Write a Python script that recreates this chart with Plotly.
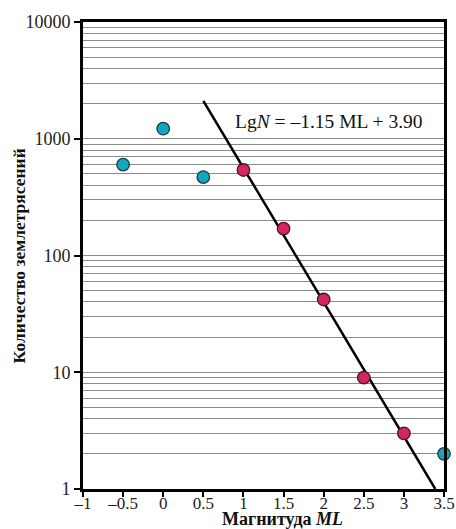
import numpy as np
import plotly.graph_objects as go

# Data
mag_excluded = [-0.5, 0.0, 0.5, 3.5]
n_excluded = [600, 1220, 470, 2]
mag_fit = [1.0, 1.5, 2.0, 2.5, 3.0]
n_fit = [540, 170, 42, 9, 3]
fit_slope = -1.15
fit_intercept = 3.90
fit_x_start = 0.5
x_ticks = [-1, -0.5, 0, 0.5, 1, 1.5, 2, 2.5, 3, 3.5]
x_tick_text = ["\u20131", "\u20130.5", "0", "0.5", "1", "1.5", "2", "2.5", "3", "3.5"]
y_ticks = [1, 10, 100, 1000, 10000]
y_tick_text = ["1", "10", "100", "1000", "10000"]

SERIF = "Liberation Serif, Times New Roman, serif"

x_end = fit_intercept / -fit_slope  # where N = 1
line_x = np.array([fit_x_start, x_end])
line_y = 10 ** (fit_slope * line_x + fit_intercept)

minor_vals = [m * 10 ** d for d in range(4) for m in range(2, 10)]

fig = go.Figure()
fig.add_trace(go.Scatter(x=line_x, y=line_y, mode="lines",
                         line=dict(color="black", width=2.5), showlegend=False,
                         hoverinfo="skip"))
fig.add_trace(go.Scatter(x=mag_excluded, y=n_excluded, mode="markers",
                         marker=dict(size=12.5, color="#13a6bf",
                                     line=dict(color="#1c3a44", width=1.3)),
                         cliponaxis=False, showlegend=False))
fig.add_trace(go.Scatter(x=mag_fit, y=n_fit, mode="markers",
                         marker=dict(size=12.5, color="#d6265f",
                                     line=dict(color="#4a1428", width=1.3)),
                         cliponaxis=False, showlegend=False))

fig.add_annotation(x=2.07, y=np.log10(1415), xref="x", yref="y",
                   text="Lg<i>N</i> = \u20131.15 ML + 3.90", showarrow=False,
                   font=dict(family=SERIF, size=19.5, color="#111"))

# axis titles as annotations (placed like the reference)
fig.add_annotation(x=0.554, y=-0.0645, xref="paper", yref="paper",
                   text="<b>Магнитуда <i>ML</i></b>", showarrow=False,
                   xanchor="center", yanchor="middle",
                   font=dict(family=SERIF, size=18, color="#111"))
fig.add_annotation(x=-0.176, y=0.499, xref="paper", yref="paper",
                   text="<b>Количество землетрясений</b>", showarrow=False,
                   textangle=-90, xanchor="center", yanchor="middle",
                   font=dict(family=SERIF, size=17.5, color="#111"))

fig.update_xaxes(range=[-1, 3.5], tickvals=x_ticks, ticktext=x_tick_text,
                 ticks="outside", ticklen=5, tickwidth=1.5, tickcolor="black",
                 ticklabelstandoff=-8,
                 showline=True, linecolor="black", linewidth=3, mirror=True,
                 showgrid=False, zeroline=False, automargin=False,
                 tickfont=dict(family=SERIF, size=17, color="#222"))
fig.update_yaxes(type="log", range=[0, 4], tickvals=y_ticks, ticktext=y_tick_text,
                 ticks="outside", ticklen=6, tickwidth=1.5, tickcolor="black",
                 showline=True, linecolor="black", linewidth=3, mirror=True,
                 showgrid=True, gridcolor="#8a8a8a", gridwidth=1.4, automargin=False,
                 minor=dict(tickvals=minor_vals, showgrid=True, gridcolor="#8a8a8a",
                            gridwidth=1.4, ticks=""),
                 tickfont=dict(family=SERIF, size=18, color="#222"))

fig.update_layout(width=456, height=529, plot_bgcolor="white", paper_bgcolor="white",
                  margin=dict(l=83, r=12, t=22, b=40))

fig.write_html("out.html", config={"displayModeBar": False},
               post_script="document.body.style.margin='0';document.body.style.overflow='hidden';")
